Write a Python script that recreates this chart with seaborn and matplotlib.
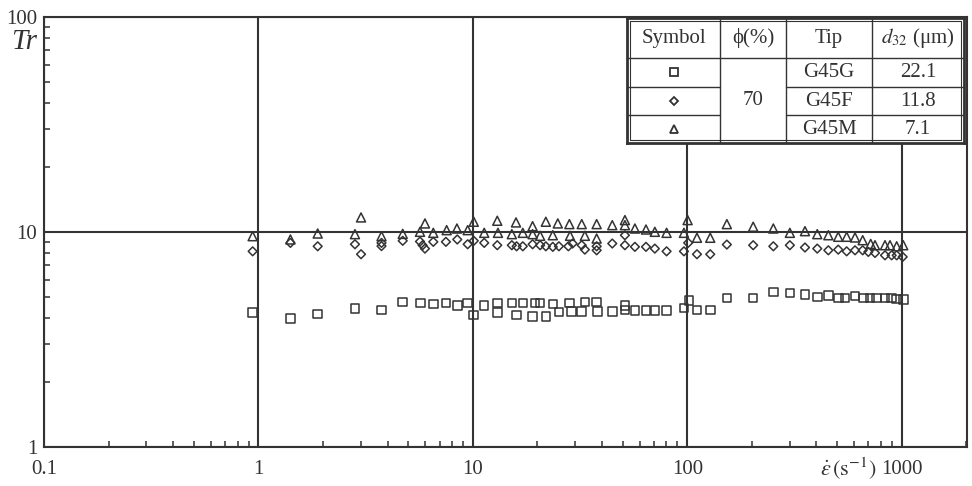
import matplotlib
matplotlib.use("Agg")
import matplotlib.pyplot as plt
from matplotlib.ticker import LogLocator, FixedLocator, FixedFormatter, NullFormatter
import numpy as np
import pandas as pd
import seaborn as sns

# ---------------- data ----------------
g45g_rate = [0.94, 1.41, 1.89, 2.82, 3.75, 4.71, 5.71, 6.54, 7.49, 8.46, 9.46, 10.1, 11.3, 13.0, 13.0,
             15.2, 16.0, 17.1, 19.0, 19.5, 20.6, 21.9, 23.6, 25.2, 28.2, 28.9, 32.2, 33.3, 37.8, 38.2,
             44.7, 51.2, 51.2, 57.0, 64.2, 70.6, 80.1, 96.5, 102, 111, 128, 153, 203, 252, 301, 354,
             404, 455, 506, 544, 606, 662, 712, 765, 836, 898, 948, 1017]
g45g_tr = [4.21, 3.96, 4.15, 4.42, 4.34, 4.72, 4.67, 4.63, 4.67, 4.55, 4.67, 4.12, 4.55, 4.67, 4.22,
           4.67, 4.12, 4.67, 4.04, 4.67, 4.67, 4.04, 4.63, 4.24, 4.67, 4.28, 4.28, 4.72, 4.72, 4.28,
           4.28, 4.55, 4.34, 4.31, 4.31, 4.31, 4.31, 4.44, 4.80, 4.34, 4.34, 4.93, 4.93, 5.26, 5.20, 5.12,
           4.98, 5.07, 4.93, 4.93, 5.03, 4.93, 4.93, 4.93, 4.93, 4.93, 4.89, 4.85]

g45f_rate = [0.94, 1.41, 1.89, 2.82, 3.01, 3.75, 3.75, 4.71, 5.67, 5.83, 5.98, 6.54, 7.49, 8.46, 9.46,
             10.1, 11.3, 13.0, 15.2, 16.0, 17.1, 19.0, 20.6, 21.9, 23.6, 25.2, 27.9, 29.2, 32.2, 33.3,
             37.8, 37.8, 44.7, 51.2, 51.2, 57.0, 64.2, 70.6, 80.1, 96.5, 101, 111, 128, 153, 203, 252,
             301, 354, 404, 455, 506, 554, 606, 658, 699, 751, 836, 898, 948, 1011]
g45f_tr = [8.13, 8.90, 8.58, 8.77, 7.88, 8.90, 8.60, 9.10, 9.03, 8.68, 8.37, 9.00, 9.00, 9.23, 8.77,
           9.10, 8.90, 8.68, 8.68, 8.58, 8.58, 8.77, 8.68, 8.58, 8.53, 8.58, 8.58, 8.84, 8.68, 8.28,
           8.58, 8.22, 8.84, 9.66, 8.68, 8.53, 8.53, 8.37, 8.13, 8.13, 8.90, 7.88, 7.88, 8.74, 8.68, 8.58,
           8.68, 8.47, 8.37, 8.22, 8.28, 8.13, 8.22, 8.22, 8.08, 7.99, 7.79, 7.79, 7.79, 7.66]

g45m_rate = [0.94, 1.41, 1.89, 2.82, 3.01, 3.75, 4.71, 5.67, 5.98, 6.54, 7.55, 8.43, 9.46, 10.1, 11.3,
             13.0, 13.1, 15.2, 15.9, 17.1, 19.0, 19.0, 20.6, 21.9, 23.6, 24.9, 28.2, 28.4, 32.2, 33.3,
             37.8, 37.8, 44.7, 51.2, 51.2, 57.0, 64.2, 70.6, 80.1, 96.5, 100.4, 111, 128, 153, 203, 252,
             301, 354, 404, 455, 506, 554, 606, 658, 717, 751, 836, 882, 948, 1017]
g45m_tr = [9.56, 9.23, 9.84, 9.77, 11.69, 9.56, 9.80, 10.02, 10.96, 9.91, 10.20, 10.38, 10.20, 11.16, 9.91,
           11.28, 9.91, 9.77, 11.08, 9.91, 10.64, 9.77, 9.60, 11.16, 9.66, 10.96, 10.88, 9.60, 10.88, 9.60,
           9.32, 10.88, 10.76, 11.36, 10.76, 10.38, 10.27, 10.02, 9.91, 9.91, 11.36, 9.40, 9.40, 10.88, 10.58, 10.38,
           9.91, 10.09, 9.77, 9.66, 9.50, 9.50, 9.43, 9.16, 8.80, 8.68, 8.68, 8.68, 8.58, 8.68]

x_ticks = [0.1, 1, 10, 100, 1000]
x_tick_labels = ["0.1", "1", "10", "100", "1000"]
y_ticks = [1, 10, 100]
y_tick_labels = ["1", "10", "100"]

table_header = ["Symbol", "\u03d5(%)", "Tip", "$d_{32}$ (\u03bcm)"]
table_phi = "70"
table_tips = ["G45G", "G45F", "G45M"]
table_d32 = ["22.1", "11.8", "7.1"]

# ---------------- style ----------------
sns.set_style("ticks")
plt.rcParams["font.family"] = ["Liberation Serif", "DejaVu Serif"]
plt.rcParams["mathtext.fontset"] = "stix"
INK = "#333333"

fig = plt.figure(figsize=(9.72, 4.86), dpi=100)
ax = fig.add_axes([44 / 972, 1 - 447 / 486, 923 / 972, 430 / 486])

series = [
    (g45g_rate, g45g_tr, "s", 38),
    (g45f_rate, g45f_tr, "D", 20),
    (g45m_rate, g45m_tr, "^", 42),
]
for rate, tr, mk, sz in series:
    df = pd.DataFrame({"rate": rate, "tr": tr})
    sns.scatterplot(data=df, x="rate", y="tr", marker=mk, s=sz, ax=ax,
                    facecolors="none", edgecolor=INK, linewidth=1.1, zorder=3, legend=False)

ax.set_xscale("log")
ax.set_yscale("log")
ax.set_xlim(0.1, 2017)
ax.set_ylim(1, 100)
ax.set_xlabel("")
ax.set_ylabel("")

ax.xaxis.set_major_locator(FixedLocator(x_ticks))
ax.xaxis.set_major_formatter(FixedFormatter(x_tick_labels))
ax.yaxis.set_major_locator(FixedLocator(y_ticks))
ax.yaxis.set_major_formatter(FixedFormatter(y_tick_labels))
ax.xaxis.set_minor_locator(LogLocator(base=10, subs=np.arange(2, 10)))
ax.yaxis.set_minor_locator(LogLocator(base=10, subs=np.arange(2, 10)))
ax.xaxis.set_minor_formatter(NullFormatter())
ax.yaxis.set_minor_formatter(NullFormatter())

ax.tick_params(which="major", length=0, labelsize=15, colors=INK)
ax.tick_params(axis="x", which="major", pad=9)
ax.tick_params(axis="y", which="major", pad=5)
ax.tick_params(which="minor", direction="in", length=4, width=1.1, color=INK,
               bottom=True, left=True, top=False, right=False)

ax.grid(True, which="major", color=INK, linewidth=1.5, zorder=1)
ax.grid(False, which="minor")
for sp in ax.spines.values():
    sp.set_visible(True)
    sp.set_color(INK)
    sp.set_linewidth(1.5)

fig.text(24 / 972, 1 - 42 / 486, "Tr", fontsize=21, style="italic", ha="center", va="center", color=INK)
fig.text(848 / 972, 1 - 469 / 486, r"$\dot{\varepsilon}\,(\mathrm{s}^{-1})$", fontsize=16,
         ha="center", va="center", color=INK)

# ---------------- table ----------------
tw, th = 337.0, 125.0
tax = fig.add_axes([627 / 972, 1 - 143 / 486, tw / 972, th / 486])
tax.set_xlim(0, tw)
tax.set_ylim(0, th)
tax.set_facecolor("white")
tax.set_xticks([])
tax.set_yticks([])
for sp in tax.spines.values():
    sp.set_color(INK)
    sp.set_linewidth(2.0)

cols = [0, 93, 159, 245, tw]
rows = [th, 85, 56, 28, 0]
lw = 1.0
for cx in cols[1:-1]:
    tax.plot([cx, cx], [0, th], color=INK, lw=lw)
tax.plot([0, tw], [rows[1], rows[1]], color=INK, lw=lw)
for ry in rows[2:4]:
    tax.plot([0, cols[1]], [ry, ry], color=INK, lw=lw)
    tax.plot([cols[2], tw], [ry, ry], color=INK, lw=lw)
# inner frame line
tax.plot([3, tw - 3, tw - 3, 3, 3], [3, 3, th - 3, th - 3, 3], color=INK, lw=0.8)

for i, h in enumerate(table_header):
    tax.text((cols[i] + cols[i + 1]) / 2, (rows[0] + rows[1]) / 2, h, ha="center", va="center",
             fontsize=15, color=INK)
tax.text((cols[1] + cols[2]) / 2, rows[1] / 2, table_phi, ha="center", va="center", fontsize=15, color=INK)
sym = ["s", "D", "^"]
sym_size = [6, 4.5, 6]
for i in range(3):
    yc = (rows[i + 1] + rows[i + 2]) / 2
    tax.plot([(cols[0] + cols[1]) / 2], [yc], marker=sym[i], ms=sym_size[i], mfc="none", mec=INK, mew=1.3)
    tax.text((cols[2] + cols[3]) / 2, yc, table_tips[i], ha="center", va="center", fontsize=15, color=INK)
    tax.text((cols[3] + cols[4]) / 2, yc, table_d32[i], ha="center", va="center", fontsize=15, color=INK)

fig.savefig("out.png", dpi=100)
